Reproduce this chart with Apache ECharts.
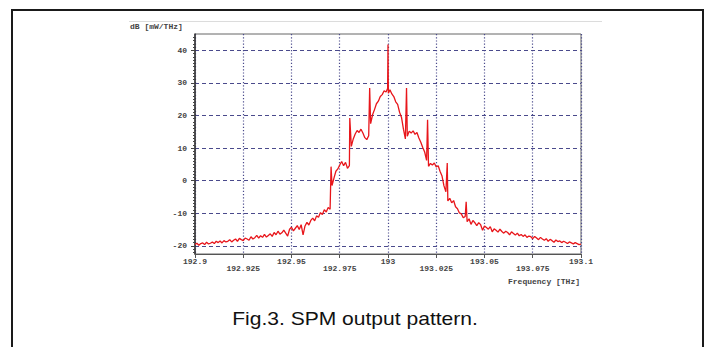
<!DOCTYPE html>
<html><head><meta charset="utf-8">
<script src="https://cdn.jsdelivr.net/npm/echarts@6/dist/echarts.min.js"></script>
<style>html,body{margin:0;padding:0;background:#fff}#c{width:705px;height:347px}</style>
</head><body><div id="c"></div>
<script>
const yTicks = [-20, -10, 0, 10, 20, 30, 40];
const xTicks = [192.9, 192.925, 192.95, 192.975, 193, 193.025, 193.05, 193.075, 193.1];
const xTickLabels = ['192.9', '192.925', '192.95', '192.975', '193', '193.025', '193.05', '193.075', '193.1'];
const yAxisName = 'dB [mW/THz]';
const xAxisName = 'Frequency [THz]';
const caption = 'Fig.3. SPM output pattern.';

// [frequency THz, power dB]
const spectrum = [
 [192.900,-19.6],[192.901,-19.2],[192.902,-19.8],[192.903,-19.3],[192.904,-19.1],[192.905,-19.6],[192.906,-18.9],[192.907,-19.4],[192.908,-19.2],[192.909,-18.8],
 [192.910,-19.3],[192.911,-18.6],[192.912,-19.0],[192.913,-18.5],[192.914,-19.1],[192.915,-18.4],[192.916,-18.8],[192.917,-18.6],[192.918,-18.1],[192.919,-18.8],
 [192.920,-18.3],[192.921,-17.9],[192.922,-18.6],[192.923,-17.7],[192.924,-18.1],[192.925,-18.4],[192.926,-17.6],[192.927,-17.9],[192.928,-18.3],[192.929,-17.2],
 [192.930,-17.9],[192.931,-17.5],[192.932,-16.8],[192.933,-17.6],[192.934,-16.9],[192.935,-17.4],[192.936,-16.5],[192.937,-17.3],[192.938,-16.8],[192.939,-16.3],
 [192.940,-17.1],[192.941,-15.9],[192.942,-16.6],[192.943,-15.5],[192.944,-16.4],[192.945,-16.0],[192.946,-15.2],[192.947,-16.1],[192.948,-17.0],[192.949,-14.9],
 [192.950,-14.3],[192.951,-15.4],[192.952,-14.6],[192.953,-13.8],[192.954,-15.0],[192.955,-13.5],[192.956,-16.6],[192.957,-13.9],[192.958,-12.8],[192.959,-13.6],
 [192.960,-12.2],[192.961,-11.5],[192.962,-12.3],[192.963,-10.8],[192.964,-11.2],[192.965,-9.8],[192.966,-10.4],[192.967,-8.9],[192.968,-9.6],[192.969,-8.2],
 [192.970,-8.8],[192.9705,4.3],[192.971,-1.5],[192.972,0.8],[192.973,2.9],[192.974,3.6],[192.975,4.8],[192.976,5.9],[192.977,4.6],[192.978,5.6],[192.979,3.8],
 [192.980,4.6],[192.9802,19.2],[192.981,10.5],[192.982,12.8],[192.983,14.3],[192.984,15.4],[192.985,14.8],[192.986,15.8],[192.987,14.6],[192.988,13.2],[192.989,12.6],
 [192.990,13.8],[192.9905,28.4],[192.991,17.5],[192.992,20.2],[192.993,21.8],[192.994,23.6],[192.995,24.4],[192.996,25.8],[192.997,26.4],[192.998,27.6],[192.999,27.2],
 [192.9998,28.3],[193.0000,41.8],[193.0002,26.8],[193.001,27.9],[193.002,26.6],[193.003,25.8],[193.004,24.2],[193.005,23.4],[193.006,21.0],[193.007,19.4],[193.008,15.8],[193.009,12.8],
 [193.0096,28.4],[193.010,13.6],[193.011,15.2],[193.012,14.6],[193.013,15.3],[193.014,14.2],[193.015,14.8],[193.016,13.1],[193.017,11.8],[193.018,10.2],[193.019,8.8],
 [193.020,6.2],[193.0205,18.7],[193.021,4.4],[193.022,5.3],[193.023,4.8],[193.024,5.4],[193.025,4.2],[193.026,4.6],[193.027,2.8],[193.028,1.4],[193.029,-1.6],
 [193.030,-3.4],[193.0307,5.4],[193.031,-6.2],[193.032,-5.4],[193.033,-6.8],[193.034,-6.1],[193.035,-8.0],[193.036,-8.6],[193.037,-9.9],[193.038,-10.2],[193.039,-11.4],
 [193.040,-11.0],[193.0405,-6.5],[193.041,-12.6],[193.042,-11.7],[193.043,-13.4],[193.044,-12.2],[193.045,-12.9],[193.046,-13.8],[193.047,-12.9],[193.048,-13.5],[193.049,-15.2],
 [193.050,-13.9],[193.051,-14.4],[193.052,-14.9],[193.053,-14.1],[193.054,-15.7],[193.055,-14.8],[193.056,-15.2],[193.057,-15.8],[193.058,-14.9],[193.059,-15.6],
 [193.060,-16.1],[193.061,-15.5],[193.062,-15.9],[193.063,-16.6],[193.064,-15.7],[193.065,-16.2],[193.066,-16.7],[193.067,-16.1],[193.068,-16.9],[193.069,-16.5],
 [193.070,-17.1],[193.071,-16.6],[193.072,-17.4],[193.073,-17.0],[193.074,-17.2],[193.075,-17.8],[193.076,-17.1],[193.077,-17.6],[193.078,-18.1],[193.079,-17.4],
 [193.080,-17.9],[193.081,-18.3],[193.082,-17.8],[193.083,-18.6],[193.084,-18.0],[193.085,-18.4],[193.086,-18.9],[193.087,-18.2],[193.088,-18.7],[193.089,-18.5],
 [193.090,-19.0],[193.091,-18.6],[193.092,-18.9],[193.093,-19.3],[193.094,-18.8],[193.095,-19.1],[193.096,-19.4],[193.097,-19.0],[193.098,-19.3],[193.099,-19.6],
 [193.100,-19.5]
];

const chart = echarts.init(document.getElementById('c'), null, {renderer: 'svg'});
const lblFont = {fontFamily: 'Liberation Mono', fontSize: 8, fontWeight: 'bold', color: '#444'};
const gridColor = '#4a4a8c';

function xLabel(v) {
  let idx = 0, best = Infinity;
  xTicks.forEach((t, i) => { const d = Math.abs(t - v); if (d < best) { best = d; idx = i; } });
  return (idx % 2 === 1 ? '\n' : '') + xTickLabels[idx];
}

chart.setOption({
  animation: false,
  backgroundColor: '#fff',
  grid: {left: 195, right: 124, top: 34, bottom: 93, show: true, borderColor: '#666', borderWidth: 1},
  xAxis: {
    type: 'value', min: 192.9, max: 193.1,
    axisLine: {show: true, onZero: false, lineStyle: {color: '#555', width: 1}},
    axisTick: {show: true, length: 4, inside: false, customValues: xTicks, lineStyle: {color: '#555'}},
    axisLabel: Object.assign({customValues: xTicks, margin: 4, lineHeight: 7, formatter: xLabel, showMinLabel: true, showMaxLabel: true}, lblFont),
    splitLine: {show: true, lineStyle: {color: gridColor, type: [1.2, 2], width: 1.2}}
  },
  yAxis: {
    type: 'value', min: -22.5, max: 45,
    axisLine: {show: true, lineStyle: {color: '#333', width: 1.5}},
    axisTick: {show: true, length: 4, customValues: yTicks, lineStyle: {color: '#444'}},
    minorTick: {show: true, splitNumber: 10, length: 2, lineStyle: {color: '#444'}},
    axisLabel: Object.assign({customValues: yTicks, margin: 8, formatter: v => String(Math.round(v))}, lblFont),
    splitLine: {show: true, lineStyle: {color: gridColor, type: [4, 3], width: 1.2}}
  },
  graphic: [
    {type: 'rect', shape: {x: 12, y: 10, width: 691, height: 345}, style: {fill: 'none', stroke: '#1a1a1a', lineWidth: 2}, z: 100},
    {type: 'line', shape: {x1: 129, y1: 21.5, x2: 602, y2: 21.5}, style: {stroke: '#dcdcdc', lineWidth: 1}},
    {type: 'text', left: 130, top: 22, style: {text: yAxisName, font: 'bold 8px "Liberation Mono"', fill: '#444'}},
    {type: 'text', right: 125, top: 277, style: {text: xAxisName, font: 'bold 8px "Liberation Mono"', fill: '#444'}},
    {type: 'text', x: 355, y: 319, scaleX: 1.17, style: {text: caption, font: '18px "Liberation Sans"', fill: '#111', textAlign: 'center', textVerticalAlign: 'middle'}}
  ],
  series: [{
    type: 'line', data: spectrum, showSymbol: false, symbol: 'none',
    lineStyle: {color: '#e8161b', width: 1.3}, z: 5
  }]
});
</script></body></html>
